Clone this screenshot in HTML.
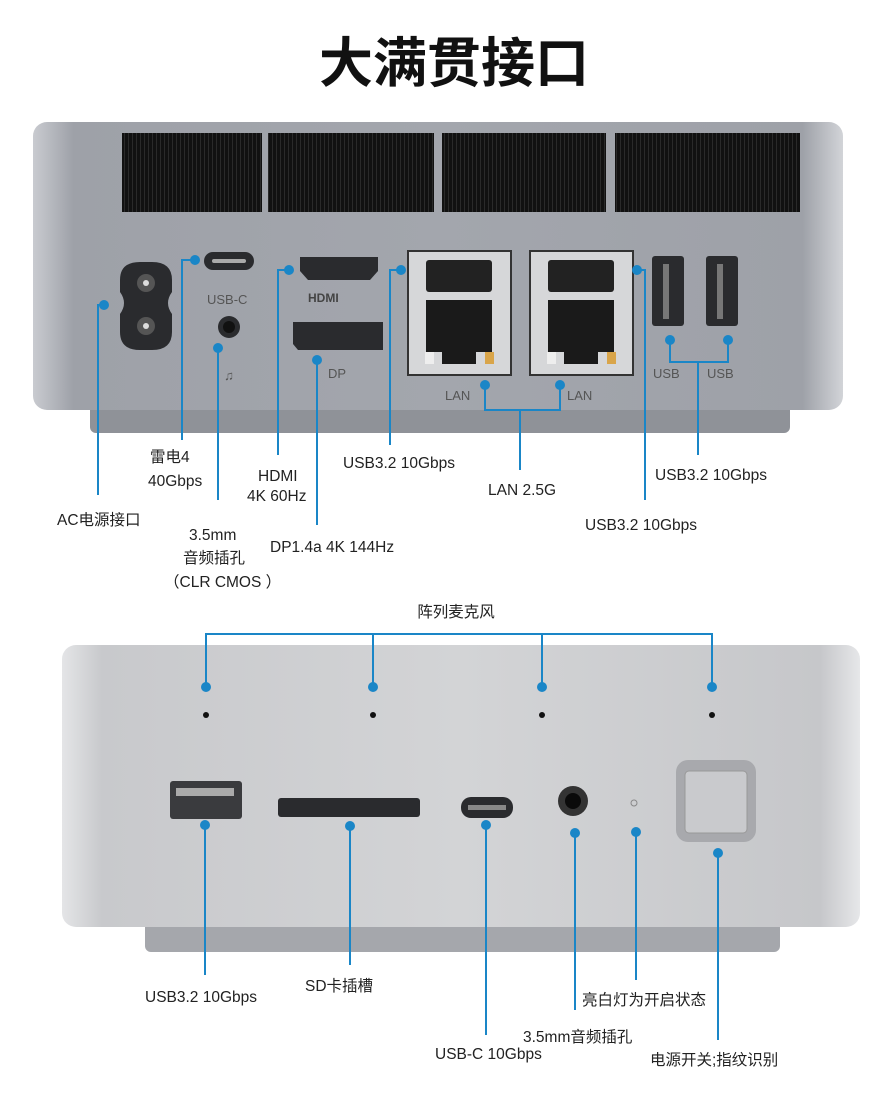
<!DOCTYPE html>
<html><head><meta charset="utf-8"><style>
html,body{margin:0;padding:0;background:#fff;width:882px;height:1111px;overflow:hidden}
svg{display:block}
text{font-family:"Liberation Sans","Noto Sans CJK SC",sans-serif;fill:#222;font-size:15.5px}
</style></head><body>
<svg width="882" height="1111" viewBox="0 0 882 1111">
<defs>
<linearGradient id="tg" x1="0" x2="1" y1="0" y2="0">
<stop offset="0" stop-color="#c9cbd0"/><stop offset="0.05" stop-color="#9ea1a8"/><stop offset="0.5" stop-color="#a3a6ad"/><stop offset="0.95" stop-color="#9ea1a8"/><stop offset="1" stop-color="#d2d4d8"/>
</linearGradient>
<linearGradient id="bg" x1="0" x2="1" y1="0" y2="0">
<stop offset="0" stop-color="#e4e5e7"/><stop offset="0.05" stop-color="#c8c9cc"/><stop offset="0.5" stop-color="#d3d4d6"/><stop offset="0.95" stop-color="#c6c7ca"/><stop offset="1" stop-color="#e6e7e9"/>
</linearGradient>
<pattern id="vent" width="4" height="10" patternUnits="userSpaceOnUse"><rect width="4" height="10" fill="#111"/><rect width="1" height="10" fill="#2a2a2a"/></pattern>
</defs>
<text x="454" y="82" text-anchor="middle" style="font-size:54px;font-weight:bold;fill:#111">大满贯接口</text>

<!-- top device -->
<rect x="90" y="400" width="700" height="33" rx="6" fill="#8f9298"/>
<rect x="33" y="122" width="810" height="288" rx="14" fill="url(#tg)"/>
<rect x="122" y="133" width="140" height="79" fill="url(#vent)"/>
<rect x="268" y="133" width="166" height="79" fill="url(#vent)"/>
<rect x="442" y="133" width="164" height="79" fill="url(#vent)"/>
<rect x="615" y="133" width="185" height="79" fill="url(#vent)"/>
<!-- AC -->
<path d="M140 262 Q120 262 120 280 L120 292 Q128 303 120 314 L120 332 Q120 350 140 350 L152 350 Q172 350 172 332 L172 314 Q164 303 172 292 L172 280 Q172 262 152 262 Z" fill="#2a2b2e"/>
<circle cx="146" cy="283" r="9" fill="#555"/><circle cx="146" cy="283" r="3" fill="#ddd"/>
<circle cx="146" cy="326" r="9" fill="#555"/><circle cx="146" cy="326" r="3" fill="#ddd"/>
<!-- usb-c -->
<rect x="204" y="252" width="50" height="18" rx="9" fill="#2a2b2e"/><rect x="212" y="259" width="34" height="4" rx="2" fill="#aaa"/>
<text x="207" y="304" style="font-size:13px;fill:#555">USB-C</text>
<circle cx="229" cy="327" r="11" fill="#2a2b2e"/><circle cx="229" cy="327" r="6" fill="#111"/>
<text x="229" y="380" text-anchor="middle" style="font-size:13px;fill:#555">♫</text>
<!-- HDMI -->
<path d="M300 257 L378 257 L378 271 L370 280 L308 280 L300 271 Z" fill="#2a2b2e"/>
<text x="308" y="302" style="font-size:12px;font-weight:bold;fill:#444">HDMI</text>
<path d="M293 322 L383 322 L383 350 L298 350 L293 344 Z" fill="#2a2b2e"/>
<text x="328" y="378" style="font-size:13px;fill:#555">DP</text>
<!-- LAN blocks -->
<rect x="408" y="251" width="103" height="124" fill="#d6d7d9" stroke="#333" stroke-width="2"/>
<rect x="530" y="251" width="103" height="124" fill="#d6d7d9" stroke="#333" stroke-width="2"/>
<rect x="426" y="260" width="66" height="32" rx="3" fill="#222"/>
<rect x="548" y="260" width="66" height="32" rx="3" fill="#222"/>
<rect x="426" y="300" width="66" height="52" fill="#1a1a1a"/><rect x="442" y="350" width="34" height="14" fill="#1a1a1a"/>
<rect x="548" y="300" width="66" height="52" fill="#1a1a1a"/><rect x="564" y="350" width="34" height="14" fill="#1a1a1a"/>
<rect x="425" y="352" width="9" height="12" fill="#eee"/><rect x="485" y="352" width="9" height="12" fill="#d9a54a"/>
<rect x="547" y="352" width="9" height="12" fill="#eee"/><rect x="607" y="352" width="9" height="12" fill="#d9a54a"/>
<text x="445" y="400" style="font-size:13px;fill:#555">LAN</text>
<text x="567" y="400" style="font-size:13px;fill:#555">LAN</text>
<!-- USB vertical -->
<rect x="652" y="256" width="32" height="70" rx="3" fill="#2a2b2e"/><rect x="663" y="264" width="6" height="55" fill="#777"/>
<rect x="706" y="256" width="32" height="70" rx="3" fill="#2a2b2e"/><rect x="717" y="264" width="6" height="55" fill="#777"/>
<text x="653" y="378" style="font-size:13px;fill:#555">USB</text>
<text x="707" y="378" style="font-size:13px;fill:#555">USB</text>

<!-- bottom device -->
<rect x="145" y="915" width="635" height="37" rx="6" fill="#a5a7ac"/>
<rect x="62" y="645" width="798" height="282" rx="14" fill="url(#bg)"/>
<circle cx="206" cy="715" r="3" fill="#111"/><circle cx="373" cy="715" r="3" fill="#111"/><circle cx="542" cy="715" r="3" fill="#111"/><circle cx="712" cy="715" r="3" fill="#111"/>
<rect x="170" y="781" width="72" height="38" rx="3" fill="#3a3b3e"/><rect x="176" y="788" width="58" height="8" fill="#aaa"/>
<rect x="278" y="798" width="142" height="19" rx="3" fill="#2a2b2e"/>
<rect x="461" y="797" width="52" height="21" rx="10" fill="#2a2b2e"/><rect x="468" y="805" width="38" height="5" fill="#888"/>
<circle cx="573" cy="801" r="15" fill="#333"/><circle cx="573" cy="801" r="8" fill="#0a0a0a"/>
<circle cx="634" cy="803" r="3" fill="none" stroke="#888" stroke-width="1"/>
<rect x="676" y="760" width="80" height="82" rx="12" fill="#a8a9ad"/>
<rect x="685" y="771" width="62" height="62" rx="4" fill="#c9cacd" stroke="#999"/>

<g stroke="#1a86c7" stroke-width="2" fill="none">
<path d="M104 305 L98 305 L98 495"/>
<path d="M195 260 L182 260 L182 440"/>
<path d="M218 348 L218 500"/>
<path d="M289 270 L278 270 L278 455"/>
<path d="M317 360 L317 525"/>
<path d="M401 270 L390 270 L390 445"/>
<path d="M485 385 L485 410 L560 410 L560 385 M520 410 L520 470"/>
<path d="M637 270 L645 270 L645 500"/>
<path d="M670 340 L670 362 L728 362 L728 340 M698 362 L698 455"/>
<path d="M206 687 L206 634 L712 634 L712 687 M373 634 L373 687 M542 634 L542 687"/>
<path d="M205 825 L205 975"/>
<path d="M350 826 L350 965"/>
<path d="M486 825 L486 1035"/>
<path d="M575 833 L575 1010"/>
<path d="M636 832 L636 980"/>
<path d="M718 853 L718 1040"/>
</g>
<g fill="#1a86c7">
<circle cx="104" cy="305" r="5"/><circle cx="195" cy="260" r="5"/><circle cx="218" cy="348" r="5"/>
<circle cx="289" cy="270" r="5"/><circle cx="317" cy="360" r="5"/><circle cx="401" cy="270" r="5"/>
<circle cx="485" cy="385" r="5"/><circle cx="560" cy="385" r="5"/><circle cx="637" cy="270" r="5"/>
<circle cx="670" cy="340" r="5"/><circle cx="728" cy="340" r="5"/>
<circle cx="206" cy="687" r="5"/><circle cx="373" cy="687" r="5"/><circle cx="542" cy="687" r="5"/><circle cx="712" cy="687" r="5"/>
<circle cx="205" cy="825" r="5"/><circle cx="350" cy="826" r="5"/><circle cx="486" cy="825" r="5"/>
<circle cx="575" cy="833" r="5"/><circle cx="636" cy="832" r="5"/><circle cx="718" cy="853" r="5"/>
</g>

<text x="57" y="525">AC电源接口</text>
<text x="150" y="462">雷电4</text>
<text x="148" y="486">40Gbps</text>
<text x="189" y="540">3.5mm</text>
<text x="183" y="563">音频插孔</text>
<text x="164" y="587">（CLR CMOS ）</text>
<text x="258" y="481">HDMI</text>
<text x="247" y="501">4K 60Hz</text>
<text x="270" y="552">DP1.4a 4K 144Hz</text>
<text x="343" y="468">USB3.2 10Gbps</text>
<text x="488" y="495">LAN 2.5G</text>
<text x="585" y="530">USB3.2 10Gbps</text>
<text x="655" y="480">USB3.2 10Gbps</text>
<text x="456" y="617" text-anchor="middle">阵列麦克风</text>
<text x="145" y="1002">USB3.2 10Gbps</text>
<text x="305" y="991">SD卡插槽</text>
<text x="435" y="1059">USB-C 10Gbps</text>
<text x="523" y="1042">3.5mm音频插孔</text>
<text x="582" y="1005">亮白灯为开启状态</text>
<text x="650" y="1065">电源开关;指纹识别</text>
</svg>
</body></html>
